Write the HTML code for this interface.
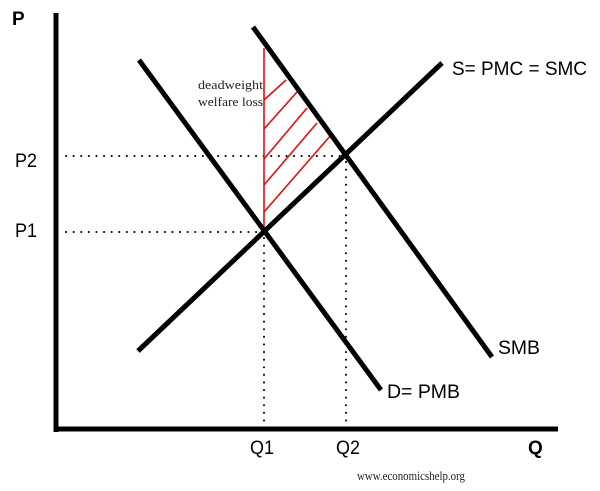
<!DOCTYPE html>
<html><head><style>
html,body{margin:0;padding:0;background:#fff;}
svg{display:block;}
.s{font-family:"Liberation Sans",sans-serif;font-size:19px;fill:#000;}
.t{font-family:"Liberation Serif",serif;font-size:13px;fill:#222;}
</style></head><body>
<svg width="600" height="491" viewBox="0 0 600 491" xmlns="http://www.w3.org/2000/svg">
<g stroke="#000" stroke-width="2" stroke-dasharray="0.1 7.5" stroke-linecap="round" fill="none">
<line x1="66" y1="156" x2="345" y2="156"/>
<line x1="66" y1="232" x2="263" y2="232"/>
<line x1="264" y1="238" x2="264" y2="428"/>
<line x1="346" y1="162" x2="346" y2="428"/>
</g>
<g stroke="#e01010" stroke-width="1.6" fill="none">
<line x1="264" y1="48" x2="264" y2="232"/>
<line x1="264" y1="100" x2="286" y2="80"/>
<line x1="264" y1="129" x2="297" y2="92"/>
<line x1="264" y1="159" x2="307" y2="108"/>
<line x1="264" y1="185" x2="317" y2="123"/>
<line x1="264" y1="212" x2="331" y2="135"/>
</g>
<g stroke="#000" stroke-width="5" fill="none">
<line x1="56" y1="13" x2="56" y2="432"/>
<line x1="54" y1="429" x2="558" y2="429"/>
<line x1="139" y1="60" x2="381" y2="390"/>
<line x1="138" y1="351" x2="442" y2="63"/>
<line x1="253" y1="27" x2="492" y2="357"/>
</g>
<text class="s" x="12" y="25" font-weight="bold">P</text>
<text class="s" x="15" y="167" textLength="22" lengthAdjust="spacingAndGlyphs">P2</text>
<text class="s" x="15" y="237" textLength="22" lengthAdjust="spacingAndGlyphs">P1</text>
<text class="s" x="250" y="454" textLength="24" lengthAdjust="spacingAndGlyphs">Q1</text>
<text class="s" x="336" y="454" textLength="24" lengthAdjust="spacingAndGlyphs">Q2</text>
<text class="s" x="528" y="454" font-weight="bold">Q</text>
<text class="s" x="452" y="75" textLength="135" lengthAdjust="spacingAndGlyphs">S= PMC = SMC</text>
<text class="s" x="498" y="354" textLength="42" lengthAdjust="spacingAndGlyphs">SMB</text>
<text class="s" x="387" y="398" textLength="73" lengthAdjust="spacingAndGlyphs">D= PMB</text>
<text class="t" x="263" y="89" text-anchor="end" textLength="65" lengthAdjust="spacingAndGlyphs">deadweight</text>
<text class="t" x="263" y="106" text-anchor="end" textLength="65" lengthAdjust="spacingAndGlyphs">welfare loss</text>
<text class="t" x="357" y="480" font-size="9" textLength="108" lengthAdjust="spacingAndGlyphs">www.economicshelp.org</text>
</svg>
</body></html>
